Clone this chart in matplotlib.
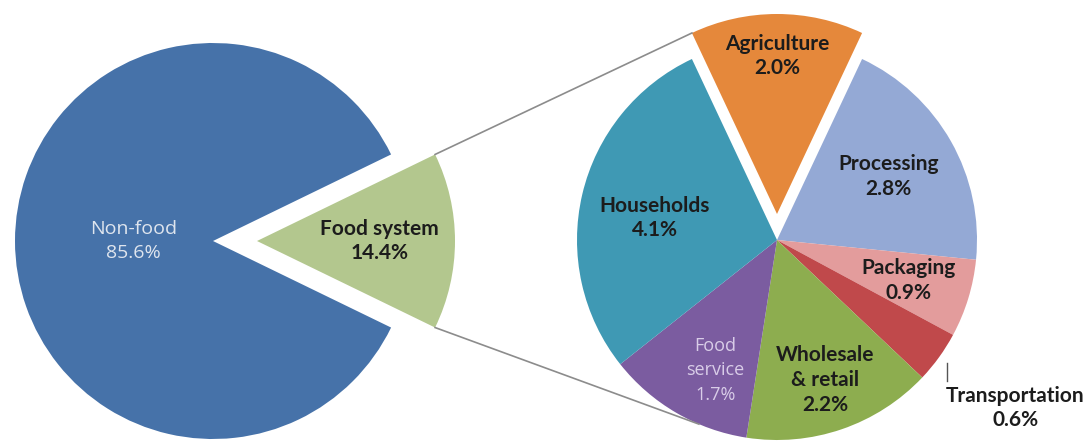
"""Pie-of-pie: share of energy use, food system breakdown"""

import numpy as np
from matplotlib import pyplot as plt

# main pie
main_labels = ['Food system', 'Non-food']
main_values = [14.4, 85.6]
main_colors = ['#b3c78e', '#4672a9']

# breakdown of the food system slice
sub_labels = ['Agriculture', 'Processing', 'Packaging', 'Transportation',
              'Wholesale\n& retail', 'Food\nservice', 'Households']
sub_values = [2.0, 2.8, 0.9, 0.6, 2.2, 1.7, 4.1]
sub_colors = ['#e5883b', '#94a9d5', '#e39c9c', '#c0494b',
              '#8dad4f', '#7b5ca0', '#3f99b4']

plt.rcParams['font.family'] = ['Lato', 'DejaVu Sans']

fig = plt.figure(figsize=(10.92, 4.44), dpi=100)
ax = fig.add_axes([0, 0, 1, 1])

# left pie, food slice centred on 0 deg (explode is in data units here)
half_food = main_values[0] / sum(main_values) * 360 / 2
wedges_main, _ = ax.pie(main_values, colors=main_colors, center=(213, 203),
                        radius=198, startangle=-half_food, counterclock=True,
                        explode=[44, 0], wedgeprops=dict(linewidth=0),
                        frame=True)

# right pie, agriculture centred on 90 deg
half_agri = sub_values[0] / sum(sub_values) * 360 / 2
wedges_sub, _ = ax.pie(sub_values, colors=sub_colors, center=(777, 204),
                       radius=200, startangle=90 + half_agri, counterclock=False,
                       explode=[26, 0, 0, 0, 0, 0, 0],
                       wedgeprops=dict(linewidth=0), frame=True)
ax.set_xlim(0, 1092)
ax.set_ylim(0, 444)
ax.set_aspect('equal')
ax.axis('off')


def wedge_point(w, ang, frac=1.0):
    cx, cy = w.center
    a = np.deg2rad(ang)
    return cx + frac * w.r * np.cos(a), cy + frac * w.r * np.sin(a)


def mid_angle(w):
    return (w.theta1 + w.theta2) / 2


# connector lines
food = wedges_main[0]
agri = wedges_sub[0]
p1 = wedge_point(food, food.theta2)
p2 = wedge_point(agri, agri.theta2)
ax.plot([p1[0], p2[0]], [p1[1], p2[1]], color='#8c8c8c', lw=1.2)
p3 = wedge_point(food, food.theta1)
p4 = wedge_point(wedges_sub[5], -113)
ax.plot([p3[0], p4[0]], [p3[1], p4[1]], color='#8c8c8c', lw=1.2)

dark = dict(color='#1c1c1c', fontweight='bold', fontsize=15,
            ha='center', va='center', linespacing=1.3)
light_nonfood = dict(color='#dfe5ee', fontsize=14, ha='center',
                     va='center', linespacing=1.4,
                     family=['Open Sans', 'DejaVu Sans'])
light_purple = dict(color='#d9cde8', fontsize=13, ha='center',
                    va='center', linespacing=1.45,
                    family=['Open Sans', 'DejaVu Sans'])

# main labels
x, y = wedge_point(food, mid_angle(food), 0.62)
ax.text(x, y, f'{main_labels[0]}\n{main_values[0]:.1f}%', **dark)
nf = wedges_main[1]
x, y = wedge_point(nf, mid_angle(nf), 0.40)
ax.text(x, y, f'{main_labels[1]}\n{main_values[1]:.1f}%', **light_nonfood)

# sub labels: radial fraction and small angle nudge per slice
label_frac = [0.79, 0.64, 0.69, None, 0.74, 0.72, 0.62]
label_nudge = [0, 0, 0, 0, 0, 5, 3]
for w, lab, val, frac, nudge in zip(wedges_sub, sub_labels, sub_values,
                                    label_frac, label_nudge):
    txt = f'{lab}\n{val:.1f}%'
    if frac is None:
        ex, ey = wedge_point(w, mid_angle(w), 1.05)
        ax.plot([ex, ex], [ey, ey - 18], color='#555555', lw=1)
        ax.text(ex + 68, ey - 45, txt, **dark)
        continue
    x, y = wedge_point(w, mid_angle(w) + nudge, frac)
    style = light_purple if lab.startswith('Food') else dark
    ax.text(x, y, txt, **style)

fig.savefig('out.png', dpi=100)
